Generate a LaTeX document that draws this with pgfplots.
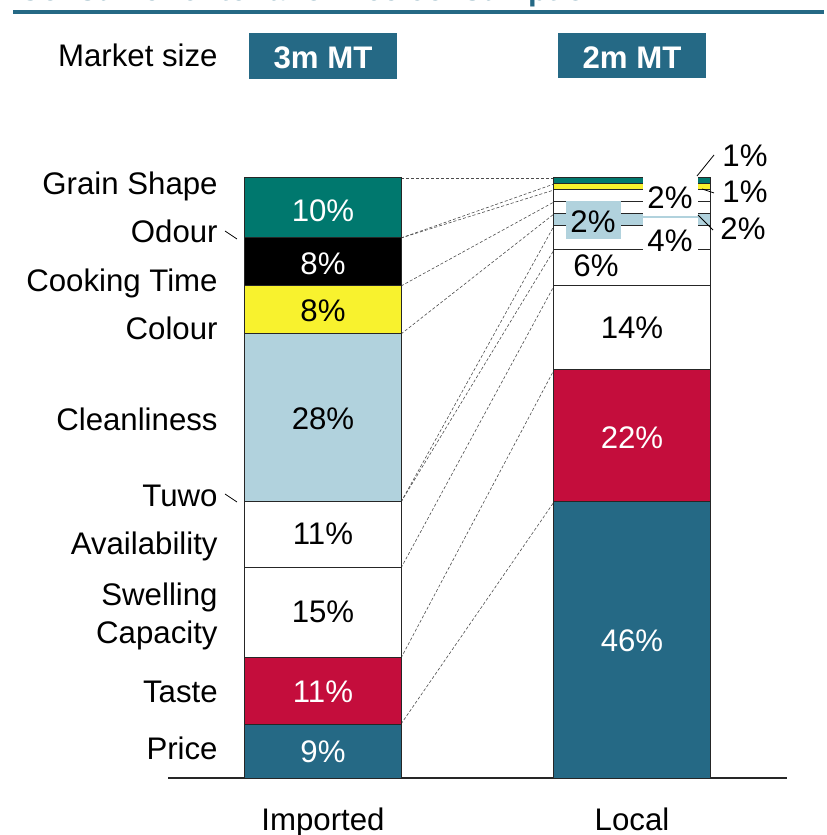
\documentclass[border=0pt]{standalone}
\usepackage{pgfplots}
\pgfplotsset{compat=1.18}
\usepackage{fontspec}
\setmainfont{Liberation Sans}
\definecolor{cblue}{HTML}{256985}
\definecolor{ccrim}{HTML}{C40D3C}
\definecolor{cteal}{HTML}{00786E}
\definecolor{cyell}{HTML}{F8F22E}
\definecolor{clblue}{HTML}{B1D2DD}
\tikzset{conn/.style={black!70, line width=0.3pt, dash pattern=on 1.5pt off 1pt}}
\begin{document}
\begin{tikzpicture}[font=\fontsize{15.6}{18}\selectfont]
\path (0,0) rectangle (412pt,417.5pt);
\begin{axis}[
  at={(84pt,28.5pt)}, anchor=south west, scale only axis,
  width=309.5pt, height=300pt,
  xmin=-0.5016, xmax=1.5016, ymin=0, ymax=100,
  ybar stacked, bar width=0.505,
  hide axis,
  every axis plot/.append style={draw=black!85, line width=0.5pt},
  clip=false,
]
\addplot[fill=cblue] coordinates {(0,9) (1,46)};
\addplot[fill=ccrim] coordinates {(0,11) (1,22)};
\addplot[fill=white] coordinates {(0,15) (1,14)};
\addplot[fill=white] coordinates {(0,11) (1,6)};
\addplot[fill=white] coordinates {(0,0) (1,4)};
\addplot[fill=clblue] coordinates {(0,28) (1,2)};
\addplot[fill=cyell] coordinates {(0,8) (1,0)};
\addplot[fill=white] coordinates {(0,0) (1,2)};
\addplot[fill=black] coordinates {(0,8) (1,0)};
\addplot[fill=white] coordinates {(0,0) (1,2)};
\addplot[fill=cyell] coordinates {(0,0) (1,1)};
\addplot[fill=cteal] coordinates {(0,10) (1,1)};
% baseline and category names
\draw[black!85, line width=0.8pt] (axis cs:-0.5016,0) -- (axis cs:1.5016,0);
\node[overlay, anchor=base, inner sep=0pt, yshift=-26pt] at (axis cs:0,0) {Imported};
\node[overlay, anchor=base, inner sep=0pt, yshift=-26pt] at (axis cs:1,0) {Local};
% connectors between the cumulative tops
\draw[conn] (axis cs:0.2525,100) -- (axis cs:0.7475,100);
\draw[conn] (axis cs:0.2525,90) -- (axis cs:0.7475,99);
\draw[conn] (axis cs:0.2525,90) -- (axis cs:0.7475,98);
\draw[conn] (axis cs:0.2525,82) -- (axis cs:0.7475,96);
\draw[conn] (axis cs:0.2525,74) -- (axis cs:0.7475,94);
\draw[conn] (axis cs:0.2525,46) -- (axis cs:0.7475,92);
\draw[conn] (axis cs:0.2525,46) -- (axis cs:0.7475,88);
\draw[conn] (axis cs:0.2525,35) -- (axis cs:0.7475,82);
\draw[conn] (axis cs:0.2525,20) -- (axis cs:0.7475,68);
\draw[conn] (axis cs:0.2525,9) -- (axis cs:0.7475,46);
\end{axis}
\begin{scope}[x=0.5pt,y=-0.5pt,yshift=417.5pt]
  % title (cut off) and rule
  \node[overlay, anchor=base west, text=cblue, font=\bfseries\fontsize{15.6}{18}\selectfont, inner sep=0pt] at (18,1) {Consumer criteria for rice consumption};
  \draw[cblue, line width=2pt] (13,12.5) -- (824,12.5);
  % market size header
  \node[anchor=base east, inner sep=0pt] at (218,67) {Market size};
  \fill[cblue] (249,33) rectangle (397,79);
  \node[anchor=base, inner sep=0pt, text=white, font=\bfseries\fontsize{15.6}{18}\selectfont] at (323,69) {3m MT};
  \fill[cblue] (558,33) rectangle (706,78);
  \node[anchor=base, inner sep=0pt, text=white, font=\bfseries\fontsize{15.6}{18}\selectfont] at (632,69) {2m MT};
  % category labels
  \foreach \t/\yy in {Grain Shape/195, Odour/243, Cooking Time/292, Colour/340, Cleanliness/431, Tuwo/507, Availability/555, Swelling/606, Capacity/644, Taste/703, Price/760}{
    \node[anchor=base east, inner sep=0pt] at (218,\yy) {\t};
  }
  \draw[line width=0.4pt] (225,231) -- (237,239);
  \draw[line width=0.4pt] (225,494) -- (237,502);
  % imported values
  \node[anchor=base, inner sep=0pt, text=white] at (323,222) {10\%};
  \node[anchor=base, inner sep=0pt, text=white] at (323,275) {8\%};
  \node[anchor=base, inner sep=0pt] at (323,322) {8\%};
  \node[anchor=base, inner sep=0pt] at (323,430) {28\%};
  \node[anchor=base, inner sep=0pt] at (323,545) {11\%};
  \node[anchor=base, inner sep=0pt] at (323,623) {15\%};
  \node[anchor=base, inner sep=0pt, text=white] at (323,703) {11\%};
  \node[anchor=base, inner sep=0pt, text=white] at (323,763) {9\%};
  % local values
  \node[anchor=base, inner sep=0pt, text=white] at (632,652) {46\%};
  \node[anchor=base, inner sep=0pt, text=white] at (632,449) {22\%};
  \node[anchor=base, inner sep=0pt] at (632,339) {14\%};
  \node[anchor=base, inner sep=0pt] at (596,277) {6\%};
  \fill[white] (643,176) rectangle (698,216);
  \fill[white] (643,218) rectangle (698,253);
  \node[anchor=base, inner sep=0pt] at (670,209) {2\%};
  \node[anchor=base, inner sep=0pt] at (670,252) {4\%};
  \fill[clblue] (566,201) rectangle (621,239);
  \node[anchor=base, inner sep=0pt] at (593,233) {2\%};
  \node[anchor=base west, inner sep=0pt] at (722,167) {1\%};
  \node[anchor=base west, inner sep=0pt] at (722,203) {1\%};
  \node[anchor=base west, inner sep=0pt] at (720,240) {2\%};
  \draw[line width=0.4pt] (697,176) -- (714,155);
  \draw[line width=0.4pt] (702,189) -- (714,193);
  \draw[line width=0.4pt] (698,215) -- (713,230);
\end{scope}
\end{tikzpicture}
\end{document}
